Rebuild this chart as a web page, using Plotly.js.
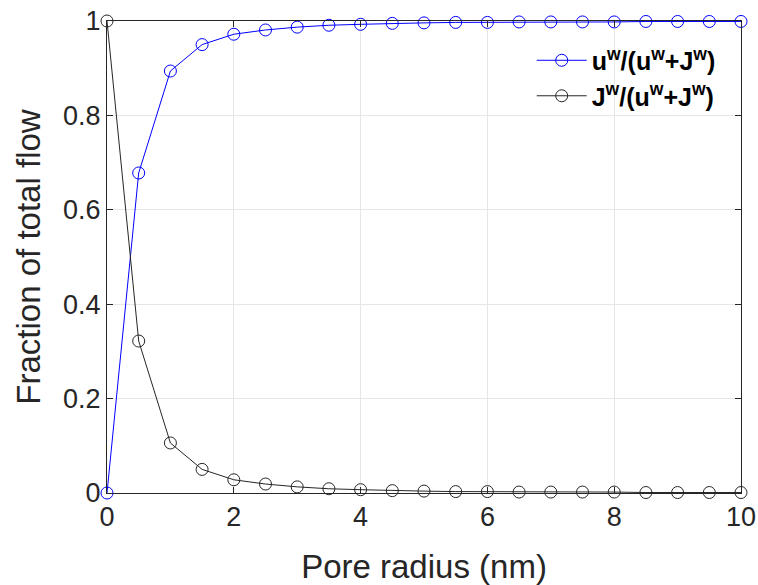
<!DOCTYPE html>
<html>
<head>
<meta charset="utf-8">
<script src="https://cdn.plot.ly/plotly-3.0.1.min.js"></script>
<style>html,body{margin:0;padding:0;background:#fff;}#chart{width:758px;height:585px;}</style>
</head>
<body>
<div id="chart"></div>
<script>
const radius = [0,0.5,1,1.5,2,2.5,3,3.5,4,4.5,5,5.5,6,6.5,7,7.5,8,8.5,9,9.5,10];
const uFrac = [0,0.678,0.894,0.950,0.972,0.981,0.987,0.991,0.993,0.995,0.996,0.997,0.997,0.998,0.998,0.998,0.998,0.999,0.999,0.999,0.999];
const jFrac = [1,0.322,0.106,0.050,0.028,0.019,0.013,0.009,0.007,0.005,0.004,0.003,0.003,0.002,0.002,0.002,0.002,0.001,0.001,0.001,0.001];
const xTicks = [0,2,4,6,8,10];
const yTicks = [0,0.2,0.4,0.6,0.8,1];
const yTickText = ['0','0.2','0.4','0.6','0.8','1'];

const traces = [
  {x: radius, y: uFrac, type:'scatter', mode:'lines+markers', cliponaxis:false,
   name:'u<sup>w</sup>/(u<sup>w</sup>+J<sup>w</sup>)',
   line:{color:'#0000ff', width:1},
   marker:{symbol:'circle-open', size:12, color:'#0000ff', line:{width:1}}},
  {x: radius, y: jFrac, type:'scatter', mode:'lines+markers', cliponaxis:false,
   name:'J<sup>w</sup>/(u<sup>w</sup>+J<sup>w</sup>)',
   line:{color:'#262626', width:1},
   marker:{symbol:'circle-open', size:12, color:'#262626', line:{width:1}}}
];

const axisCommon = {
  showline:true, linecolor:'#262626', linewidth:1, mirror:'ticks',
  ticks:'inside', ticklen:6, tickcolor:'#262626', tickwidth:1,
  showgrid:true, gridcolor:'#e6e6e6', gridwidth:1, zeroline:false,
  tickfont:{family:'Liberation Sans, Arial, sans-serif', size:27, color:'#262626'}
};

const layout = {
  width:758, height:585,
  margin:{l:107, r:17, t:21, b:92},
  paper_bgcolor:'#ffffff', plot_bgcolor:'#ffffff',
  font:{family:'Liberation Sans, Arial, sans-serif', color:'#262626'},
  showlegend:true,
  legend:{x:0.968, y:0.965, xanchor:'right', yanchor:'top', bgcolor:'rgba(255,255,255,0)',
          borderwidth:0, font:{size:25, color:'#000', family:'Liberation Sans, Arial, sans-serif', weight:'bold'},
          itemwidth:50, tracegroupgap:6},
  xaxis: Object.assign({}, axisCommon, {
    range:[0,10], tickvals:xTicks, ticktext:xTicks.map(String),
    title:{text:'Pore radius (nm)', font:{size:33, color:'#262626'}, standoff:24}
  }),
  yaxis: Object.assign({}, axisCommon, {
    range:[0,1], tickvals:yTicks, ticktext:yTickText,
    title:{text:'Fraction of total flow', font:{size:33, color:'#262626'}, standoff:12}
  })
};

Plotly.newPlot('chart', traces, layout, {displayModeBar:false, staticPlot:true});
</script>
</body>
</html>
